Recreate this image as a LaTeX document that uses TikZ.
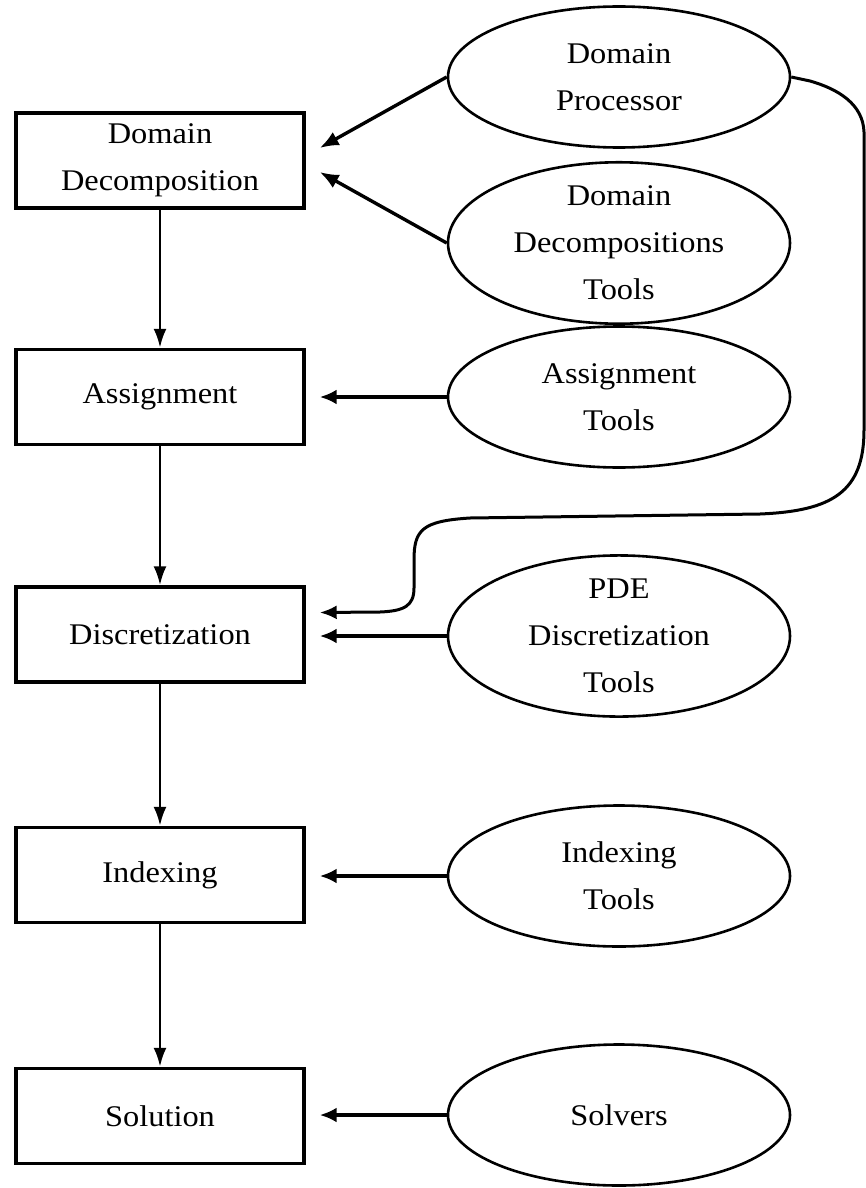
\documentclass[tikz,border=0pt]{standalone}
\usepackage{fontspec}
\setmainfont{Liberation Serif}[FakeStretch=1.08]
\usetikzlibrary{shapes.geometric,arrows.meta,calc}
\tikzset{
  stagebox/.style={draw, line width=3.4pt, minimum width=288pt, minimum height=95pt, inner sep=0pt, align=center, font=\fontsize{30pt}{47pt}\selectfont},
  toolell/.style={draw, ellipse, line width=2.6pt, minimum width=342pt, minimum height=141pt, inner sep=0pt, align=center, font=\fontsize{30pt}{47pt}\selectfont},
  varrow/.style={line width=2.8pt, -{Latex[length=19pt,width=13pt]}},
  harrow/.style={line width=4pt, -{Latex[length=17pt,width=15pt]}},
  darrow/.style={line width=3.4pt, -{Latex[length=19pt,width=15pt]}},
  carrow/.style={line width=3pt, -{Latex[length=17pt,width=14pt]}}
}
\begin{document}
\begin{tikzpicture}[x=1pt,y=-1pt]
\useasboundingbox (0,0) rectangle (866,1188);
% stages
\node[stagebox] (dd)   at (160,160.5) {Domain\\Decomposition};
\node[stagebox] (asg)  at (160,397)   {Assignment};
\node[stagebox] (disc) at (160,634.5) {Discretization};
\node[stagebox] (idx)  at (160,875)   {Indexing};
\node[stagebox] (sol)  at (160,1116)  {Solution};
% tools
\node[toolell] (dp)   at (619,77)   {Domain\\Processor};
\node[toolell] (ddt)  at (619,243)  {Domain\\Decompositions\\Tools};
\node[toolell] (at)   at (619,397)  {Assignment\\Tools};
\node[toolell] (pde)  at (619,636)  {PDE\\Discretization\\Tools};
\node[toolell] (it)   at (619,876)  {Indexing\\Tools};
\node[toolell] (slv)  at (619,1115) {Solvers};
% vertical flow
\draw[varrow] (dd.south) -- (asg.north);
\draw[varrow] (asg.south) -- (disc.north);
\draw[varrow] (disc.south) -- (idx.north);
\draw[varrow] (idx.south) -- (sol.north);
% diagonal arrows into Domain Decomposition
\draw[darrow] (dp.west) -- ($(dd.east)+(14,-12.5)$);
\draw[darrow] (ddt.west) -- ($(dd.east)+(14,11.5)$);
% horizontal arrows
\draw[harrow] (at.west) -- ($(at.west -| asg.east)+(14,0)$);
\draw[harrow] (pde.west) -- ($(pde.west -| disc.east)+(14,0)$);
\draw[harrow] (it.west) -- ($(it.west -| idx.east)+(14,0)$);
\draw[harrow] (slv.west) -- ($(slv.west -| sol.east)+(14,0)$);
% long curve from Domain Processor to Discretization
\coordinate (cend) at ($(disc.east)+(14,-22)$);
\draw[carrow] (dp.east) -- (810,81)
  .. controls (838,89) and (863,104) .. (864,132)
  -- (864,430)
  .. controls (864,492) and (832,511) .. (760,514)
  -- (470,518)
  .. controls (422,521) and (414,530) .. (414,560)
  -- (414,588)
  .. controls (414,606) and (404,611) .. (380,612)
  -- (cend);
\end{tikzpicture}
\end{document}
